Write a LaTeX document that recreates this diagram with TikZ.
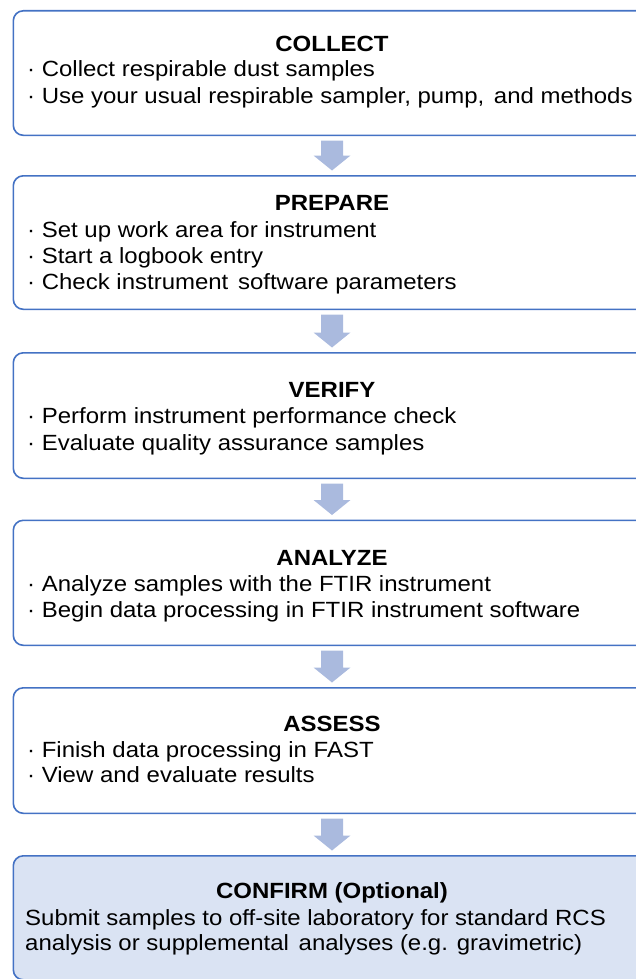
\documentclass[tikz,border=0pt]{standalone}
\usepackage{fontspec}
\setmainfont[FakeStretch=1.09]{Liberation Sans}
\usetikzlibrary{calc}
\definecolor{boxblue}{RGB}{68,114,196}
\definecolor{arrowfill}{RGB}{170,186,222}
\definecolor{optfill}{RGB}{218,227,243}
\newcommand\flowarrow[2]{%
  \path (axis |- #1.south) ++(0,4.5) coordinate (#1-out)
        (axis |- #2.north) ++(0,-4.5) coordinate (#2-in);
  \fill[arrowfill] ($(#1-out)+(-11,0)$) -- ($(#1-out)+(11,0)$)
    -- ($(#2-in)+(11,-15)$) -- ($(#2-in)+(18.5,-15)$) -- (#2-in)
    -- ($(#2-in)+(-18.5,-15)$) -- ($(#2-in)+(-11,-15)$) -- cycle;}
\begin{document}
\begin{tikzpicture}[x=1pt,y=-1pt,
  stage/.style={draw=boxblue,line width=1.6pt,rounded corners=10pt,fill=white,
    anchor=north west,minimum width=660pt,inner sep=0pt},
  optional/.style={stage,fill=optfill},
  title/.style={font=\fontsize{22}{26}\selectfont\bfseries,anchor=base,inner sep=0pt},
  item/.style={font=\fontsize{22}{26}\selectfont,anchor=base west,inner sep=0pt}]
\useasboundingbox (0,0) rectangle (636,979);
\coordinate (axis) at (332,0);

% stage boxes
\node[stage,minimum height=124.5pt] (collect) at (12.5,10) {};
\node[stage,minimum height=133.5pt] (prepare) at (12.5,175) {};
\node[stage,minimum height=125.5pt] (verify)  at (12.5,352) {};
\node[stage,minimum height=125pt]   (analyze) at (12.5,519.5) {};
\node[stage,minimum height=125.5pt] (assess)  at (12.5,687) {};
\node[optional,minimum height=124pt] (confirm) at (12.5,855) {};

% block arrows between stages
\flowarrow{collect}{prepare}
\flowarrow{prepare}{verify}
\flowarrow{verify}{analyze}
\flowarrow{analyze}{assess}
\flowarrow{assess}{confirm}

% COLLECT
\node[title] (t1) at (332,52) {COLLECT};
\node[item] (c1) at (27,77)  {· Collect respirable dust samples};
\node[item] (c2) at (27,103) {· Use your usual respirable sampler, pump,\hspace{3pt} and methods};

% PREPARE
\node[title] (t2) at (332,210) {PREPARE};
\node[item] (p1) at (27,237) {· Set up work area for instrument};
\node[item] (p2) at (27,263) {· Start a logbook entry};
\node[item] (p3) at (27,289) {· Check instrument\hspace{3pt} software parameters};

% VERIFY
\node[title] (t3) at (332,397) {VERIFY};
\node[item] (v1) at (27,423) {· Perform instrument performance check};
\node[item] (v2) at (27,450) {· Evaluate quality assurance samples};

% ANALYZE
\node[title] (t4) at (332,565) {ANALYZE};
\node[item] (a1) at (27,591) {· Analyze samples with the FTIR instrument};
\node[item] (a2) at (27,617) {· Begin data processing in FTIR instrument software};

% ASSESS
\node[title] (t5) at (332,731) {ASSESS};
\node[item] (s1) at (27,757) {· Finish data processing in FAST};
\node[item] (s2) at (27,782) {· View and evaluate results};

% CONFIRM (optional)
\node[title] (t6) at (332,898) {CONFIRM (Optional)};
\node[item] (o1) at (25,925) {Submit samples to off-site laboratory for standard RCS};
\node[item] (o2) at (25,950) {analysis or supplemental\hspace{3pt} analyses (e.g. gravimetric)};
\end{tikzpicture}
\end{document}
